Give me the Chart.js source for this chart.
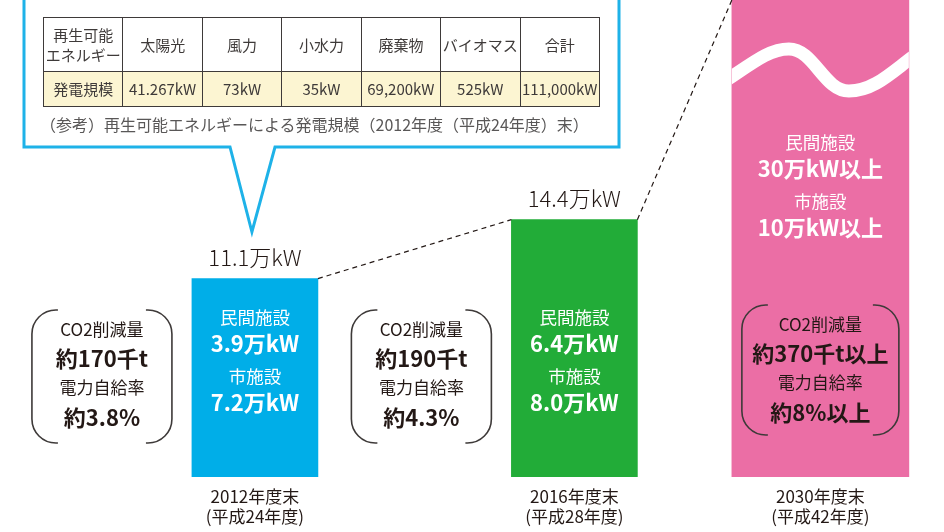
<!DOCTYPE html>
<html lang="ja">
<head>
<meta charset="utf-8">
<title>再生可能エネルギーによる発電規模</title>
<script src="https://cdn.jsdelivr.net/npm/chart.js@4.4.1/dist/chart.umd.min.js"></script>
<style>
  html, body { margin: 0; padding: 0; background: #fff; }
  body { width: 944px; height: 532px; overflow: hidden; position: relative; font-family: 'Noto Sans CJK JP', 'Noto Sans', sans-serif; color: #3e3a39; }
  #wrap { position: absolute; left: 0; top: 0; width: 944px; height: 532px; }
  #energy-table { position: absolute; left: 43px; top: 17px; width: 557px; border-collapse: collapse; table-layout: fixed; font-size: 15px; }
  #energy-table td { border: 1.5px solid #3e3a39; text-align: center; padding: 0; line-height: 1.3; white-space: nowrap; }
  #energy-table tr.head td { height: 53px; background: #fff; }
  #energy-table tr.output td { height: 34px; background: #fcf5d2; }
  #note { position: absolute; left: 40px; top: 112px; font-size: 16px; color: #595757; line-height: 24px; white-space: nowrap; }
</style>
</head>
<body>
<div id="wrap"><canvas id="capacityChart"></canvas></div>
<table id="energy-table"></table>
<div id="note">（参考）再生可能エネルギーによる発電規模（2012年度（平成24年度）末）</div>
<script>
// bars
const periods = ['2012年度末', '2016年度末', '2030年度末'];
const eraLabels = ['(平成24年度)', '(平成28年度)', '(平成42年度)'];
const totals = [11.1, 14.4, 40];   // 万kW, last one is "40万kW以上" and runs off the top
const privateLabels = ['3.9万kW', '6.4万kW', '30万kW以上'];
const cityLabels = ['7.2万kW', '8.0万kW', '10万kW以上'];
const co2Labels = ['約170千t', '約190千t', '約370千t以上'];
const selfRateLabels = ['約3.8%', '約4.3%', '約8%以上'];

// reference table (2012)
const sourceNames = ['太陽光', '風力', '小水力', '廃棄物', 'バイオマス', '合計'];
const sourceOutputs = ['41.267kW', '73kW', '35kW', '69,200kW', '525kW', '111,000kW'];

// layout
const slotX = [0, 1, 1.77];
const barWidths = [126, 126, 177];
const barColors = ['#00aee8', '#22ac38', '#eb6ea5'];
const FONT = "'Noto Sans CJK JP', 'Noto Sans', sans-serif";
const DARK = '#231815';

function buildTable() {
    const table = document.getElementById('energy-table');
    const head = '<tr class="head"><td>再生可能<br>エネルギー</td>' +
        sourceNames.map(n => `<td>${n}</td>`).join('') + '</tr>';
    const row = '<tr class="output"><td>発電規模</td>' +
        sourceOutputs.map(v => `<td>${v}</td>`).join('') + '</tr>';
    table.innerHTML = head + row;
}

function drawText(ctx, str, x, y, size, weight, color) {
    ctx.font = `${weight} ${size}px ${FONT}`;
    ctx.fillStyle = color;
    ctx.textAlign = 'center';
    ctx.textBaseline = 'middle';
    ctx.fillText(str, x, y);
}

function bracketBox(ctx, cx, top, w, h) {
    const arm = 26, r = 24;
    const l = cx - w / 2, rt = cx + w / 2, bottom = top + h;
    ctx.beginPath();
    ctx.moveTo(l + arm, top);
    ctx.arcTo(l, top, l, top + r, r);
    ctx.lineTo(l, bottom - r);
    ctx.arcTo(l, bottom, l + arm, bottom, r);
    ctx.lineTo(l + arm, bottom);
    ctx.moveTo(rt - arm, top);
    ctx.arcTo(rt, top, rt, top + r, r);
    ctx.lineTo(rt, bottom - r);
    ctx.arcTo(rt, bottom, rt - arm, bottom, r);
    ctx.lineTo(rt - arm, bottom);
    ctx.strokeStyle = '#3e3a39';
    ctx.lineWidth = 1.6;
    ctx.stroke();
}

const overlayPlugin = {
    id: 'overlay',
    afterDatasetsDraw(chart) {
        const ctx = chart.ctx;
        const bars = chart.data.datasets.map((d, i) =>
            chart.getDatasetMeta(i).data[0].getProps(['x', 'y', 'width', 'base'], true));
        const top = chart.chartArea.top;
        ctx.save();

        // dashed connectors
        ctx.setLineDash([5, 4]);
        ctx.strokeStyle = DARK;
        ctx.lineWidth = 1.2;
        ctx.beginPath();
        ctx.moveTo(bars[0].x + bars[0].width / 2, bars[0].y);
        ctx.lineTo(bars[1].x - bars[1].width / 2, bars[1].y);
        ctx.moveTo(bars[1].x + bars[1].width / 2, bars[1].y);
        ctx.lineTo(bars[2].x - bars[2].width / 2, top);
        ctx.stroke();
        ctx.setLineDash([]);

        // wavy break on the 2030 bar
        const b3 = bars[2];
        const l = b3.x - b3.width / 2, w = b3.width;
        ctx.save();
        ctx.beginPath();
        ctx.rect(l, top, w, 200);
        ctx.clip();
        ctx.beginPath();
        ctx.moveTo(l - 5, 80);
        ctx.bezierCurveTo(l + 22, 62, l + 38, 49, l + 57, 49);
        ctx.bezierCurveTo(l + 82, 49, l + 92, 91, l + 117, 91);
        ctx.bezierCurveTo(l + 142, 91, l + 160, 72, l + w + 5, 56);
        ctx.strokeStyle = '#fff';
        ctx.lineWidth = 13;
        ctx.stroke();
        ctx.restore();

        // totals above the first two bars
        [0, 1].forEach(i => {
            drawText(ctx, totals[i] + '万kW', bars[i].x, bars[i].y - 21, 22, 300, DARK);
        });

        // breakdown inside bars
        bars.forEach((b, i) => {
            const y0 = i < 2 ? 317 : 142;
            drawText(ctx, '民間施設', b.x, y0, 17.5, 400, '#fff');
            drawText(ctx, privateLabels[i], b.x, y0 + 27, 22, 700, '#fff');
            drawText(ctx, '市施設', b.x, y0 + 59, 17.5, 400, '#fff');
            drawText(ctx, cityLabels[i], b.x, y0 + 86, 22, 700, '#fff');
        });

        // CO2 / self-sufficiency boxes
        bars.forEach((b, i) => {
            const cx = i < 2 ? b.x - 153 : b.x;
            const boxTop = i < 2 ? 310 : 305;
            const boxW = i < 2 ? 140 : 157;
            const boxH = i < 2 ? 133 : 130;
            bracketBox(ctx, cx, boxTop, boxW, boxH);
            drawText(ctx, 'CO2削減量', cx, boxTop + 20, 17, 400, DARK);
            drawText(ctx, co2Labels[i], cx, boxTop + 49, 22, 700, DARK);
            drawText(ctx, '電力自給率', cx, boxTop + 78, 17, 400, DARK);
            drawText(ctx, selfRateLabels[i], cx, boxTop + 108, 22, 700, DARK);
        });

        // speech bubble round the 2012 table
        const tipX = bars[0].x - 3;
        ctx.beginPath();
        ctx.moveTo(230, 147);
        ctx.lineTo(24, 147);
        ctx.lineTo(24, -5);
        ctx.lineTo(619, -5);
        ctx.lineTo(619, 147);
        ctx.lineTo(275, 147);
        ctx.lineTo(tipX, 232);
        ctx.closePath();
        ctx.strokeStyle = '#1eb2e8';
        ctx.lineWidth = 3;
        ctx.lineJoin = 'miter';
        ctx.stroke();

        ctx.restore();
    }
};

buildTable();

const chart = new Chart(document.getElementById('capacityChart'), {
    type: 'bar',
    data: {
        datasets: periods.map((p, i) => ({
            label: p,
            data: [{ x: slotX[i], y: totals[i] }],
            backgroundColor: barColors[i],
            barThickness: barWidths[i],
            maxBarThickness: barWidths[i],
            grouped: false
        }))
    },
    options: {
        responsive: true,
        maintainAspectRatio: false,
        animation: false,
        layout: { padding: { top: 0, left: 0, right: 0, bottom: -5 } },
        plugins: {
            legend: { display: false },
            tooltip: { enabled: false }
        },
        scales: {
            x: {
                type: 'linear',
                offset: false,
                min: -0.798,
                max: 2.157,
                grid: { display: false, drawTicks: false },
                border: { display: false },
                afterBuildTicks: scale => {
                    scale.ticks = slotX.map(v => ({ value: v }));
                },
                ticks: {
                    autoSkip: false,
                    maxRotation: 0,
                    padding: 10,
                    color: DARK,
                    font: { family: FONT, size: 17, lineHeight: 1.18 },
                    callback: (value, index) => [periods[index], eraLabels[index]]
                }
            },
            y: {
                display: false,
                min: 0,
                max: 26.7
            }
        }
    },
    plugins: [overlayPlugin]
});
</script>
</body>
</html>
